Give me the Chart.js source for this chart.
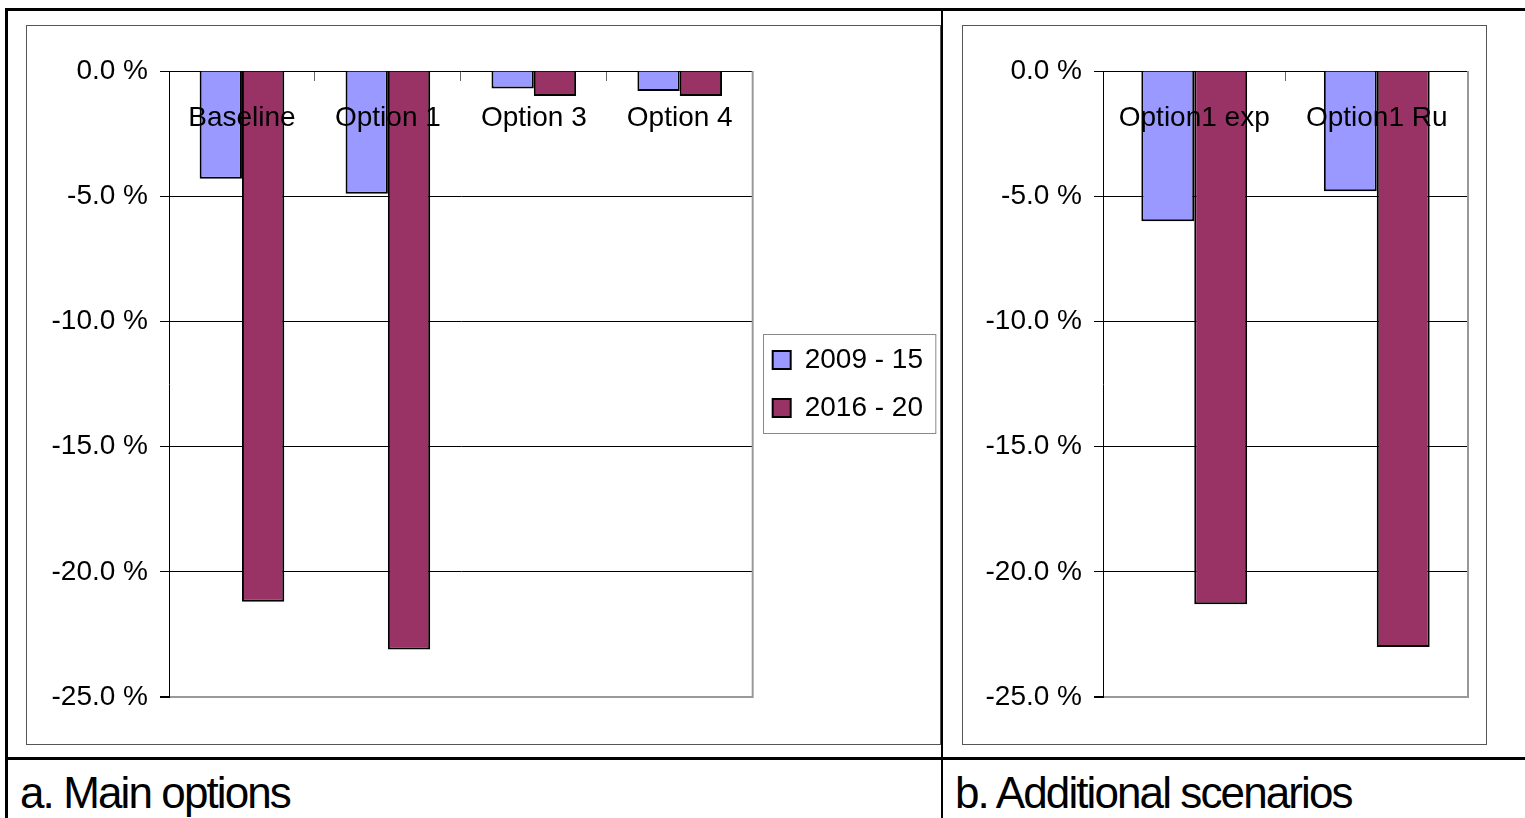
<!DOCTYPE html>
<html>
<head>
<meta charset="utf-8">
<title>Main options and additional scenarios</title>
<script src="https://cdn.jsdelivr.net/npm/chart.js@4.4.1/dist/chart.umd.min.js"></script>
<style>
  body { margin: 0; background: #fff; }
  #page { position: relative; width: 1525px; height: 818px; overflow: hidden; font-family: "Liberation Sans", Arial, sans-serif; }
  .rule { position: absolute; background: #000; }
  .frame { position: absolute; border: 1px solid #555; box-sizing: border-box; background: #fff; }
  .frame canvas { position: absolute; left: 0; top: 0; }
  .caption { position: absolute; top: 771px; font-size: 44px; line-height: 44px; letter-spacing: -1.9px; color: #000; white-space: nowrap; }
</style>
</head>
<body>
<div id="page">
  <div class="frame" style="left:26px; top:25px; width:915px; height:720px;">
    <canvas id="mainChart" width="913" height="718"></canvas>
  </div>
  <div class="frame" style="left:962px; top:25px; width:525px; height:720px;">
    <canvas id="extraChart" width="523" height="718"></canvas>
  </div>

  <div class="rule" style="left:5px; top:8px; width:1520px; height:3px;"></div>
  <div class="rule" style="left:5px; top:8px; width:3px; height:810px;"></div>
  <div class="rule" style="left:5px; top:757px; width:1520px; height:3px;"></div>
  <div class="rule" style="left:941px; top:8px; width:2px; height:810px;"></div>

  <div class="caption" style="left:20px;">a. Main options</div>
  <div class="caption" style="left:955px;">b. Additional scenarios</div>
</div>

<script>
// values, in percent
const mainCategories = ["Baseline", "Option 1", "Option 3", "Option 4"];
const main2009 = [-4.3, -4.9, -0.7, -0.8];
const main2016 = [-21.2, -23.1, -1.0, -1.0];

const extraCategories = ["Option1 exp", "Option1 Ru"];
const extra2009 = [-6.0, -4.8];
const extra2016 = [-21.3, -23.0];

const seriesNames = ["2009 - 15", "2016 - 20"];
const seriesColors = ["#9999FF", "#993366"];
const yTicks = [0, -5, -10, -15, -20, -25];

const fontFamily = '"Liberation Sans", Arial, sans-serif';

// gray right edge of the plot area, like the Excel plot border
const plotEdge = {
  id: "plotEdge",
  beforeDatasetsDraw(chart) {
    const { ctx, chartArea } = chart;
    ctx.save();
    ctx.strokeStyle = "#999";
    ctx.lineWidth = 2;
    ctx.beginPath();
    ctx.moveTo(chartArea.right, chartArea.top);
    ctx.lineTo(chartArea.right, chartArea.bottom + 1);
    ctx.stroke();
    ctx.restore();
  },
};

// thin box round the legend
const legendFrame = {
  id: "legendFrame",
  afterDraw(chart) {
    const legend = chart.legend;
    if (!legend || !legend.options.display || !legend.legendHitBoxes.length) return;
    const boxes = legend.legendHitBoxes;
    const first = boxes[0];
    const last = boxes[boxes.length - 1];
    const left = first.left - 10;
    const right = Math.max(...boxes.map((b) => b.left + b.width)) + 12;
    const top = first.top - 12;
    const bottom = last.top + last.height + 11;
    const ctx = chart.ctx;
    ctx.save();
    ctx.strokeStyle = "#888";
    ctx.lineWidth = 1;
    ctx.strokeRect(Math.round(left) + 0.5, Math.round(top) + 0.5, right - left, bottom - top);
    ctx.restore();
  },
};

function makeChart(id, categories, first, second, axisWidth, padRight, showLegend) {
  return new Chart(document.getElementById(id), {
    type: "bar",
    data: {
      labels: categories,
      datasets: [
        {
          label: seriesNames[0],
          data: first,
          backgroundColor: seriesColors[0],
          borderColor: "#000",
          borderWidth: 2,
        },
        {
          label: seriesNames[1],
          data: second,
          backgroundColor: seriesColors[1],
          borderColor: "#000",
          borderWidth: 2,
        },
      ],
    },
    options: {
      responsive: false,
      animation: false,
      layout: { padding: { top: 45, bottom: 47, left: 0, right: padRight } },
      datasets: { bar: { categoryPercentage: 0.58, barPercentage: 1.0 } },
      plugins: {
        tooltip: { enabled: false },
        legend: {
          display: showLegend,
          position: "right",
          align: "center",
          labels: {
            boxWidth: 18,
            boxHeight: 18,
            padding: 20,
            color: "#000",
            font: { family: fontFamily, size: 28 },
          },
        },
      },
      scales: {
        x: {
          position: "top",
          offset: true,
          grid: { drawOnChartArea: false, drawTicks: true, tickLength: -10, color: "#666", offset: true },
          border: { display: false },
          ticks: {
            z: 1,
            mirror: true,
            padding: 30,
            maxRotation: 0,
            autoSkip: false,
            color: "#000",
            font: { family: fontFamily, size: 28 },
          },
          afterFit(scale) {
            scale.height = 0;
          },
        },
        y: {
          min: Math.min(...yTicks),
          max: Math.max(...yTicks),
          ticks: {
            stepSize: 5,
            padding: 12,
            color: "#000",
            font: { family: fontFamily, size: 28 },
            callback: (v) => (v === 0 ? 0 : v).toFixed(1) + " %",
          },
          grid: {
            color: (c) => (c.tick && c.tick.value === Math.min(...yTicks) ? "#999" : "#000"),
            lineWidth: (c) => (c.tick && c.tick.value === Math.min(...yTicks) ? 2 : 1),
            tickColor: "#000",
            tickLength: 9,
          },
          border: { color: "#000", width: 1 },
          afterFit(scale) {
            scale.width = axisWidth;
          },
        },
      },
    },
    plugins: [plotEdge, legendFrame],
  });
}

makeChart("mainChart", mainCategories, main2009, main2016, 142, 7, true);
makeChart("extraChart", extraCategories, extra2009, extra2016, 140, 18, false);
</script>
</body>
</html>
